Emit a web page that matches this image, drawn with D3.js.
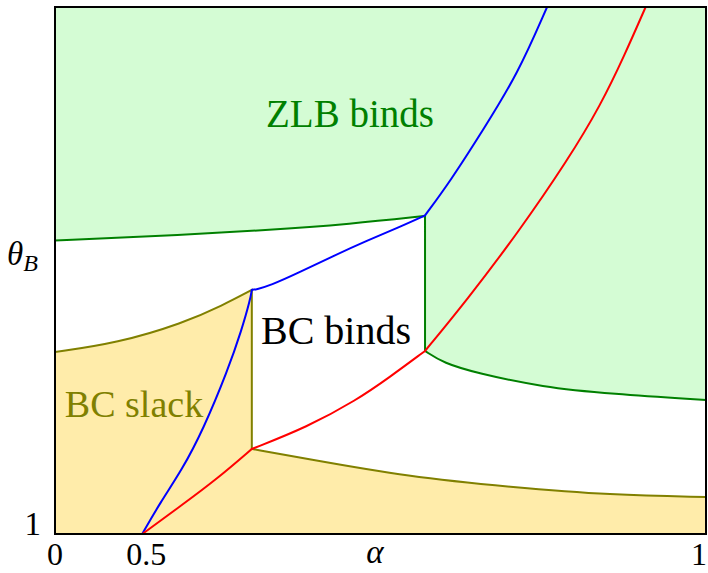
<!DOCTYPE html>
<html>
<head>
<meta charset="utf-8">
<script src="https://cdn.jsdelivr.net/npm/d3@7"></script>
<style>
  body { margin: 0; background: white; }
</style>
</head>
<body>
<div id="container"></div>
<script>
// colours
let zlbGreen = "#008000";
let bcOlive = "#808000";
let greenFill = "#d4fcd4";
let yellowFill = "#ffecaa";
let serif = "Liberation Serif, DejaVu Serif, serif";

// tick labels
const xTicks = [0, 0.5, 1];
const xTickLabels = ["0", "0.5", "1"];
const yTicks = [1, 2];

// boundary curves, [alpha, theta]
const zlbUpper = [[0, 2.087], [0.533, 2.104], [0.683, 2.126], [0.761, 2.148], [0.823, 2.178]];
const zlbLower = [[0.823, 1.678], [0.837, 1.633], [0.861, 1.596], [0.905, 1.544], [0.947, 1.519], [1, 1.496]];
const bcUpper = [[0, 1.674], [0.445, 1.707], [0.571, 1.781], [0.627, 1.848], [0.662, 1.904]];
const bcLower = [[0.662, 1.315], [0.717, 1.281], [0.811, 1.211], [0.884, 1.174], [0.947, 1.144], [1, 1.137]];

// blue and red curves, in pieces between kinks
const blueA = [[0.5, 1.0], [0.533, 1.115], [0.569, 1.237], [0.600, 1.385], [0.633, 1.607], [0.650, 1.756], [0.660, 1.867], [0.662, 1.904]];
const blueB = [[0.662, 1.904], [0.667, 1.906], [0.682, 1.919], [0.714, 1.970], [0.746, 2.030], [0.776, 2.087], [0.803, 2.137], [0.823, 2.180]];
const blueC = [[0.823, 2.180], [0.842, 2.307], [0.865, 2.493], [0.889, 2.704], [0.908, 2.952]];
const redA = [[0.5, 1.0], [0.569, 1.107], [0.619, 1.204], [0.662, 1.315]];
const redB = [[0.662, 1.315], [0.721, 1.396], [0.767, 1.496], [0.795, 1.581], [0.823, 1.678]];
const redC = [[0.823, 1.678], [0.854, 1.867], [0.889, 2.115], [0.921, 2.385], [0.941, 2.589], [0.955, 2.774], [0.967, 2.952]];

const thetaTop = 2.952;

let viz = d3.select("#container")
  .append("svg")
    .attr("width", 708)
    .attr("height", 573);

let x = d3.scalePow().exponent(2.9).domain([0, 1]).range([55, 706]);
let y = d3.scaleLinear().domain([1, thetaTop]).range([534, 7]);

let line = d3.line()
  .x(d => x(d[0]))
  .y(d => y(d[1]))
  .curve(d3.curveBasis);

// helper to chain curve paths into one outline
function cont(pts) {
  return line(pts).replace(/^M/, "L");
}

viz.append("clipPath")
  .attr("id", "plot")
  .append("rect")
  .attr("x", x(0))
  .attr("y", y(thetaTop))
  .attr("width", x(1) - x(0))
  .attr("height", y(1) - y(thetaTop));

let g = viz.append("g").attr("clip-path", "url(#plot)");

// ZLB region
g.append("path")
  .attr("d", "M" + x(0) + "," + y(thetaTop) + cont(zlbUpper) + cont(zlbLower)
    + "L" + x(1) + "," + y(thetaTop) + "Z")
  .attr("fill", greenFill);

// BC slack region
g.append("path")
  .attr("d", "M" + x(0) + "," + y(1) + cont(bcUpper) + cont(bcLower)
    + "L" + x(1) + "," + y(1) + "Z")
  .attr("fill", yellowFill);

// boundaries
g.append("path")
  .attr("d", line(zlbUpper) + cont(zlbLower))
  .attr("fill", "none")
  .attr("stroke", zlbGreen)
  .attr("stroke-width", 2);

g.append("path")
  .attr("d", line(bcUpper) + cont(bcLower))
  .attr("fill", "none")
  .attr("stroke", bcOlive)
  .attr("stroke-width", 2);

g.append("path")
  .attr("d", line(blueA) + cont(blueB) + cont(blueC))
  .attr("fill", "none")
  .attr("stroke", "blue")
  .attr("stroke-width", 2);

g.append("path")
  .attr("d", line(redA) + cont(redB) + cont(redC))
  .attr("fill", "none")
  .attr("stroke", "red")
  .attr("stroke-width", 2);

// frame
viz.append("rect")
  .attr("x", x(0))
  .attr("y", y(thetaTop))
  .attr("width", x(1) - x(0))
  .attr("height", y(1) - y(thetaTop))
  .attr("fill", "none")
  .attr("stroke", "black")
  .attr("stroke-width", 2);

// x tick labels
viz.selectAll(".xtick")
  .data(xTicks)
  .enter()
  .append("text")
  .attr("class", "xtick")
  .attr("x", (d, i) => x(d) + [0, 4, 1][i])
  .attr("y", 565)
  .attr("text-anchor", (d, i) => i == 2 ? "end" : "middle")
  .attr("font-family", serif)
  .attr("font-size", 32)
  .text((d, i) => xTickLabels[i]);

viz.append("text")
  .attr("x", 375)
  .attr("y", 563)
  .attr("text-anchor", "middle")
  .attr("font-family", serif)
  .attr("font-size", 33)
  .attr("font-style", "italic")
  .text("α");

// y tick labels
viz.append("text")
  .attr("x", 41)
  .attr("y", y(yTicks[0]) + 1)
  .attr("text-anchor", "end")
  .attr("font-family", serif)
  .attr("font-size", 33)
  .text("1");

let tb = viz.append("text")
  .attr("x", 7)
  .attr("y", 265)
  .attr("font-family", serif)
  .attr("font-size", 33)
  .attr("font-style", "italic");
tb.append("tspan").text("θ");
tb.append("tspan").attr("font-size", 24).attr("dy", 6).text("B");

// region labels
viz.append("text")
  .attr("x", 350)
  .attr("y", 127)
  .attr("text-anchor", "middle")
  .attr("font-family", serif)
  .attr("font-size", 39)
  .attr("fill", zlbGreen)
  .text("ZLB binds");

viz.append("text")
  .attr("x", 336)
  .attr("y", 344)
  .attr("text-anchor", "middle")
  .attr("font-family", serif)
  .attr("font-size", 40)
  .attr("fill", "black")
  .text("BC binds");

viz.append("text")
  .attr("x", 134)
  .attr("y", 417)
  .attr("text-anchor", "middle")
  .attr("font-family", serif)
  .attr("font-size", 38)
  .attr("fill", bcOlive)
  .text("BC slack");
</script>
</body>
</html>
